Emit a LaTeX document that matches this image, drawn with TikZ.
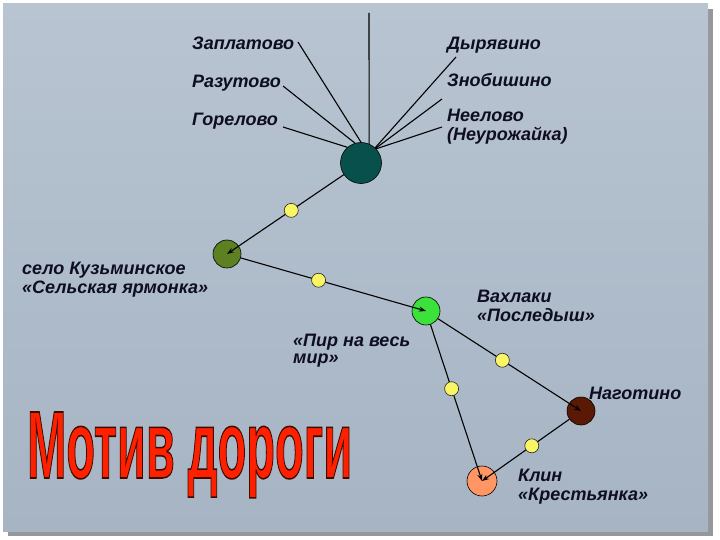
\documentclass[tikz,border=0pt]{standalone}
\usepackage{graphicx}
\usepackage{fontspec}
\setmainfont{Liberation Sans}
\usetikzlibrary{arrows.meta,calc}

\definecolor{paneltop}{RGB}{184,196,209}
\definecolor{panelbot}{RGB}{166,180,196}
\definecolor{panelshadow}{RGB}{150,150,155}
\definecolor{labelink}{RGB}{14,14,32}
\definecolor{dotyellow}{RGB}{250,245,100}
\definecolor{hubteal}{RGB}{8,80,76}
\definecolor{kuzolive}{RGB}{92,128,34}
\definecolor{vakhgreen}{RGB}{60,225,60}
\definecolor{nagbrown}{RGB}{90,25,5}
\definecolor{klinsalmon}{RGB}{255,150,100}
\definecolor{titlered}{RGB}{255,32,0}

% red title with a thin dark outline (fill + stroke text mode)
\def\titletext{\resizebox{325pt}{66pt}{\fontsize{92}{92}\selectfont\bfseries
  \special{pdf:literal direct 0.24 0.04 0 RG 1.5 w 2 Tr}Мотив дороги\special{pdf:literal direct 0 Tr}}}

\tikzset{
  place/.style={circle, draw=black, line width=0.6pt, minimum size=28pt, inner sep=0pt},
  waypt/.style={circle, draw=black!85, fill=dotyellow, line width=0.6pt, minimum size=14pt, inner sep=0pt},
  road/.style={line width=1.1pt, -{Stealth[length=7pt,width=5pt]}},
  spoke/.style={line width=1.1pt},
  lbl/.style={inner sep=0pt, text=labelink, align=left,
    font=\bfseries\itshape\fontsize{18}{18.5}\selectfont},
}

\begin{document}
\begin{tikzpicture}[x=1pt, y=-1pt]
  %%%%% BACKGROUND %%%%%
  \useasboundingbox (0,0) rectangle (720,540);
  \fill[white] (0,0) rectangle (720,540);
  \fill[panelshadow] (8,9) rectangle (713,536);
  \shade[top color=paneltop, bottom color=panelbot] (3,4) rectangle (708,531);

  %%%%% VILLAGES %%%%%
  \node[lbl, anchor=base west] (zap) at (192,50) {Заплатово};
  \node[lbl, anchor=base west] (raz) at (192,88) {Разутово};
  \node[lbl, anchor=base west] (gor) at (192,126) {Горелово};
  \node[lbl, anchor=base west] (dyr) at (447,50) {Дырявино};
  \node[lbl, anchor=base west] (zno) at (447,87) {Знобишино};
  \node[lbl, anchor=north west] (nee) at (447,109) {Неелово\\(Неурожайка)};

  \node[place, fill=hubteal, minimum size=41pt] (hub) at (361,163) {};

  \coordinate (zapend) at (298,42);
  \coordinate (razend) at (283,86);
  \coordinate (gorend) at (283,127);
  \coordinate (dyrend) at (456,57);
  \coordinate (znoend) at (442,99);
  \coordinate (neeend) at (442,127);
  \coordinate (topend) at (369,13);

  \draw[spoke] (zapend) -- (hub.90);
  \draw[spoke] (razend) -- (hub.107);
  \draw[spoke] (gorend) -- (hub.131);
  \draw[spoke] (dyrend) -- (hub.47);
  \draw[spoke] (znoend) -- (hub.45);
  \draw[spoke] (neeend) -- (hub.43);
  \draw[spoke] (topend) -- (hub.67);

  %%%%% ROUTE %%%%%
  \node[place, fill=kuzolive] (kuz) at (227,254) {};
  \node[place, fill=vakhgreen] (vakh) at (426,311) {};
  \node[place, fill=nagbrown] (nag) at (581,411) {};
  \node[place, fill=klinsalmon, minimum size=30pt] (klin) at (482,481) {};

  \node[lbl, anchor=north west] (kuztext) at (22,262) {село Кузьминское\\«Сельская ярмонка»};
  \node[lbl, anchor=north west] (pirtext) at (293,334) {«Пир на весь\\[-2pt]мир»};
  \node[lbl, anchor=north west] (vakhtext) at (477,290) {Вахлаки\\«Последыш»};
  \node[lbl, anchor=base west] (nagtext) at (589,399) {Наготино};
  \node[lbl, anchor=north west] (klintext) at (518,469) {Клин\\«Крестьянка»};

  \draw[road] (hub) -- node[waypt, pos=0.45] (w1) {} (kuz.center);
  \draw[road] (kuz) -- node[waypt, pos=0.42] (w2) {} (vakh.center);
  \draw[road] (vakh) -- node[waypt, pos=0.45] (w3) {} (nag.center);
  \draw[road] (vakh) -- node[waypt, pos=0.41] (w4) {} (klin.center);
  \draw[road] (nag) -- node[waypt, pos=0.43] (w5) {} (klin.center);

  %%%%% TITLE %%%%%
  \node[inner sep=0pt, text=titlered, anchor=base west] (title) at (27,478) {\titletext};
  %%%%% END %%%%%
\end{tikzpicture}
\end{document}
